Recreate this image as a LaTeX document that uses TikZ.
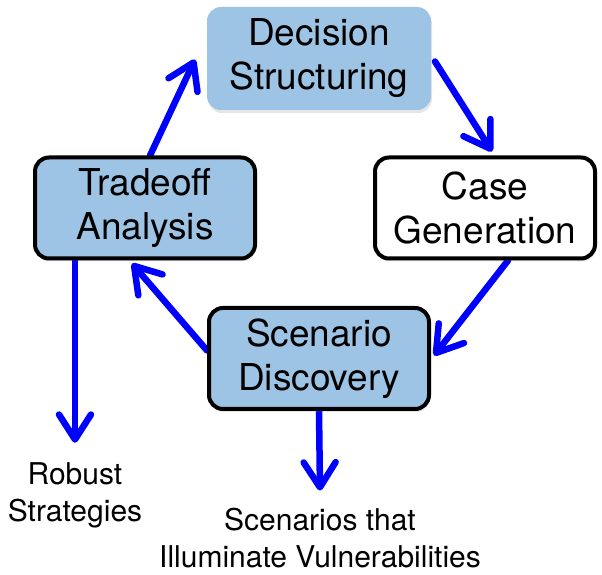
\documentclass[tikz,border=0pt]{standalone}
\usepackage{fontspec}
\setmainfont{TeX Gyre Heros}
\usetikzlibrary{arrows.meta,shadows,backgrounds}
\definecolor{boxblue}{RGB}{157,196,228}
\tikzstyle{line} = [draw, blue, line width=6.5pt, line cap=round, -{Straight Barb[length=25pt,width=32pt,round]}]
\tikzstyle{block} = [draw, line width=4pt, rectangle, rounded corners=14pt, fill=boxblue, text centered, align=center, minimum width=220pt, minimum height=101pt, font=\fontsize{37}{44}\selectfont, drop shadow={opacity=0.2, shadow xshift=1pt, shadow yshift=-3pt}]
\tikzstyle{plain} = [block, fill=white]
\tikzstyle{cloud} = [block, draw=none, minimum width=224pt, minimum height=103pt]
\tikzstyle{outcome} = [text centered, align=center, font=\fontsize{30}{37}\selectfont]

\begin{document}
\begin{tikzpicture}
    \useasboundingbox (0,0) rectangle (602pt,575pt);
        \node[cloud] (decision) at (319pt,516.5pt) {Decision\\Structuring};
        \node[block, below of=decision, node distance=300pt] (discovery) {Scenario\\Discovery};
        \node[block] (tradeoff) at (145pt,367pt) {Tradeoff\\Analysis};
        \node[plain, right of=tradeoff, node distance=340pt] (cases) {Case\\Generation};
        \node[outcome] (robust) at (75pt,80pt) {Robust\\Strategies};
        \node[outcome] (vuln) at (320pt,37pt) {Scenarios that\\Illuminate Vulnerabilities};
        \begin{pgfonlayer}{background}
        \path[line] ([xshift=5pt]tradeoff.north) -- ([xshift=-10pt,yshift=-1pt]decision.west);
        \path[line] ([shift={(2pt,-3pt)}]decision.east) -- ([shift={(7pt,4pt)}]cases.north);
        \path[line] ([xshift=23pt]cases.south) -- ([shift={(3pt,3pt)}]discovery.east);
        \path[line] ([yshift=8pt]discovery.west) -- ([shift={(-13pt,-3pt)}]tradeoff.south);
        \path[line] ([xshift=-70pt]tradeoff.south) -- ([yshift=16pt]robust.north);
        \path[line] (discovery.south) -- ([yshift=14pt]vuln.north);
        \end{pgfonlayer}
    \end{tikzpicture}
\end{document}
